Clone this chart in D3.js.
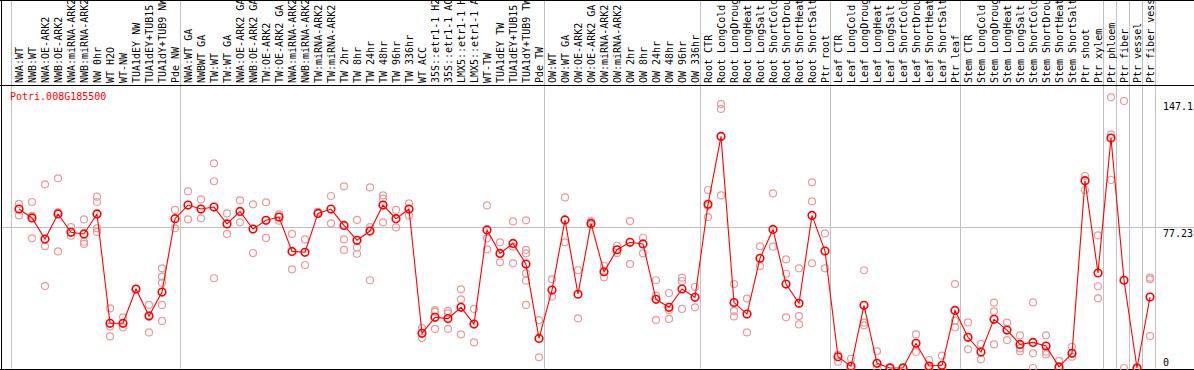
<!DOCTYPE html>
<html>
<head>
<meta charset="utf-8">
<script src="https://cdn.jsdelivr.net/npm/d3@7"></script>
<style>
  body { margin: 0; background: #fff; }
  svg { display: block; }
  text { font-family: "DejaVu Sans Mono", monospace; font-size: 10px; }
</style>
</head>
<body>
<svg id="chart" width="1194" height="370"></svg>
<script>
var gene = "Potri.008G185500";

var samples = ["NWA:WT","NWB:WT","NWA:OE-ARK2","NWB:OE-ARK2","NWA:miRNA-ARK2","NWB:miRNA-ARK2",
  "NW 0hr","WT H2O","WT-NW","TUA1dEY NW","TUA1dEY+TUB15 NW","TUA1dY+TUB9 NW","Pde NW",
  "NWA:WT GA","NWBWT GA","TW:WT","TW:WT GA","NWA:OE-ARK2 GA","NWB:OE-ARK2 GA","TW:OE-ARK2",
  "TW:OE-ARK2 GA","NWA:miRNA-ARK2 GA","NWB:miRNA-ARK2 GA","TW:miRNA-ARK2","TW:miRNA-ARK2 GA",
  "TW 2hr","TW 8hr","TW 24hr","TW 48hr","TW 96hr","TW 336hr","WT ACC",
  "35S::etr1-1 H2O","35S::etr1-1 ACC","LMX5::etr1-1 H2O","LMX5::etr1-1 ACC","WT-TW",
  "TUA1dEY TW","TUA1dEY+TUB15 TW","TUA1dY+TUB9 TW","Pde TW",
  "OW:WT","OW:WT GA","OW:OE-ARK2","OW:OE-ARK2 GA","OW:miRNA-ARK2","OW:miRNA-ARK2 GA",
  "OW 2hr","OW 8hr","OW 24hr","OW 48hr","OW 96hr","OW 336hr",
  "Root CTR","Root LongCold","Root LongDrought","Root LongHeat","Root LongSalt",
  "Root ShortCold","Root ShortDrought","Root ShortHeat","Root ShortSalt","Ptr root",
  "Leaf CTR","Leaf LongCold","Leaf LongDrought","Leaf LongHeat","Leaf LongSalt",
  "Leaf ShortCold","Leaf ShortDrought","Leaf ShortHeat","Leaf ShortSalt","Ptr leaf",
  "Stem CTR","Stem LongCold","Stem LongDrought","Stem LongHeat","Stem LongSalt",
  "Stem ShortCold","Stem ShortDrought","Stem ShortHeat","Stem ShortSalt","Ptr shoot",
  "Ptr xylem","Ptr phloem","Ptr fiber","Ptr vessel","Ptr fiber vessel"];

// mean expression per sample
var means = [87.5,82.6,71.0,84.8,74.7,73.8,84.8,24.6,24.6,43.5,28.6,41.8,82.2,
  89.7,87.5,88.6,79.3,86.2,76.5,81.3,83.1,64.2,63.7,85.1,87.5,78.5,70.3,75.4,89.7,82.2,87.5,19.1,
  27.9,27.2,33.4,24.2,76.0,63.1,68.6,57.2,16.3,
  42.9,81.5,40.6,79.6,53.0,65.1,69.2,68.3,37.8,33.4,43.5,38.9,
  90.1,127.5,36.0,29.7,60.4,76.3,46.2,35.6,84.0,64.4,
  6.2,0.9,34.5,2.6,0,0,13.6,1.1,1.5,31.7,
  16.9,8.8,26.8,20.9,13.0,14.1,12.1,0.6,8.1,103.1,
  52.3,126.6,48.3,0,39.1];

// replicate values per sample
var replicates = [[90.3,84.0],[91.4,83.7,71.4],[101.1,67.0,45.1],[104.4,64.2,85.8],[77.6,72.8],[81.8,69.5,68.3],
  [94.3,91.4,76.9,74.9],[32.8,22.8,17.4],[27.9,22.4],[43.5],[34.7,19.6,29.0],[54.9,50.3,47.0,34.7,25.9],[87.0,76.9],
  [97.2,81.8],[92.8,82.4],[112.7,102.8,49.4],[85.1,73.8],[92.3,80.2],[90.1,63.3],[91.2,71.6],
  [84.6,81.1],[73.8,54.3],[70.8,56.7],[85.9],[94.7,79.6],
  [100.0,70.8,65.0],[81.5,66.4,62.9],[99.4,77.6,48.3],[95.0,93.2,80.2],[87.0,77.4],[90.6,84.0],[22.0,16.5],
  [31.9,31.0,21.5],[31.4,30.1,21.5],[43.3,37.8,18.5],[32.5,14.1],[89.5,71.4,65.3],
  [69.2,58.2],[80.7,66.8,57.6],[81.3,65.0,63.1,52.1,48.1,34.7],[26.4,5.9],
  [48.8,39.3],[93.9,69.2],[53.8,27.3],[80.9,78.9],[56.3,49.9],[67.3,63.3],
  [80.9,57.2],[71.7,63.1],[48.3,39.8,26.4],[41.3,31.9,27.0],[49.7,47.9,32.5],[44.6,33.4],
  [98.0,89.2,83.1],[145.3,142.6,95.0],[46.2,31.4,28.4],[38.2,19.6],[67.0,56.1],
  [96.1,66.8],[59.8,51.9,27.9],[54.9,28.6,24.0],[102.2,91.7,57.6],[74.1,54.9],
  [7.2,3.5],[5.1,0],[53.8,25.0,23.5],[9.2,0],[0.5],[0.5],[18.5,8.8],[4.4,0],[6.8,0],[46.2,26.1,22.4],
  [25.1,10.3],[13.2,4.8],[36.0,31.2,13.0],[25.0,15.4],[18.0,10.8,9.2],[36.1,8.1,0],[18.0,9.0,7.5],[3.9,0],[11.7,6.2],[105.7,98.0],
  [73.0,45.0,38.3],[149.0,128.6,103.5],[147.0,0],[0.2],[49.7,48.8,17.6]];

var yTicks = [0, 77.23, 147.1];
// group boundaries (index of first sample in each block, plus the end)
var groupBreaks = [0, 13, 41, 53, 63, 73, 84, 85, 86, 87, 88];

var svg = d3.select("#chart");
var W = 1194, H = 370;
var headerY = 85, bottomY = 369;

var xscale = d3.scaleBand()
    .domain(d3.range(samples.length))
    .range([11, 11 + 13 * samples.length]);
var cx = function(i) { return xscale(i) + 8; };

var yscale = d3.scaleLinear()
    .domain([0, 147.1])
    .range([368, 100.8]);

// vertical group lines
svg.append("g")
    .selectAll("line")
    .data(groupBreaks)
    .enter().append("line")
    .attr("x1", function(d) { return d < samples.length ? xscale(d) : xscale(samples.length - 1) + xscale.bandwidth(); })
    .attr("x2", function(d) { return d < samples.length ? xscale(d) : xscale(samples.length - 1) + xscale.bandwidth(); })
    .attr("y1", 0)
    .attr("y2", H)
    .attr("stroke", "#c0c0c0")
    .attr("stroke-width", 1)
    .attr("shape-rendering", "crispEdges");

// middle horizontal grid line
svg.append("line")
    .attr("x1", 0).attr("x2", W)
    .attr("y1", yscale(77.23)).attr("y2", yscale(77.23))
    .attr("stroke", "#c0c0c0")
    .attr("shape-rendering", "crispEdges");

// frame
var frame = svg.append("g").attr("stroke", "#000").attr("shape-rendering", "crispEdges");
frame.append("line").attr("x1", 0).attr("x2", W).attr("y1", 0.5).attr("y2", 0.5);
frame.append("line").attr("x1", 0).attr("x2", W).attr("y1", headerY + 0.5).attr("y2", headerY + 0.5);
frame.append("line").attr("x1", 0).attr("x2", W).attr("y1", bottomY + 0.5).attr("y2", bottomY + 0.5);
frame.append("line").attr("x1", 1.5).attr("x2", 1.5).attr("y1", 0).attr("y2", H);

// sample labels
svg.append("g")
    .selectAll("text")
    .data(samples)
    .enter().append("text")
    .attr("transform", function(d, i) { return "translate(" + (cx(i) + 4) + "," + (headerY - 2) + ") rotate(-90)"; })
    .attr("text-anchor", "start")
    .attr("fill", "#000")
    .text(function(d) { return d; });

// y tick labels on the right
svg.append("g")
    .selectAll("text")
    .data(yTicks)
    .enter().append("text")
    .attr("x", 1163)
    .attr("y", function(d) { return d == 0 ? yscale(d) - 2 : yscale(d) + 9; })
    .attr("fill", "#000")
    .text(function(d) { return d; });

// gene name
svg.append("text")
    .attr("x", 10)
    .attr("y", 100)
    .attr("fill", "#ff0000")
    .text(gene);

// replicate points
var repPts = [];
replicates.forEach(function(r, i) { r.forEach(function(v) { repPts.push({i: i, v: v}); }); });
svg.append("g")
    .selectAll("circle")
    .data(repPts)
    .enter().append("circle")
    .attr("cx", function(d) { return cx(d.i); })
    .attr("cy", function(d) { return yscale(d.v); })
    .attr("r", 3.5)
    .attr("fill", "none")
    .attr("stroke", "#ee9999")
    .attr("stroke-width", 1.2);

// mean line
var line = d3.line()
    .x(function(d, i) { return cx(i); })
    .y(function(d) { return yscale(d); });
svg.append("path")
    .datum(means)
    .attr("d", line)
    .attr("fill", "none")
    .attr("stroke", "#ff0000")
    .attr("stroke-width", 1.1);

svg.append("g")
    .selectAll("circle")
    .data(means)
    .enter().append("circle")
    .attr("cx", function(d, i) { return cx(i); })
    .attr("cy", function(d) { return yscale(d); })
    .attr("r", 3.8)
    .attr("fill", "none")
    .attr("stroke", "#ff0000")
    .attr("stroke-width", 1.6);
</script>
</body>
</html>
